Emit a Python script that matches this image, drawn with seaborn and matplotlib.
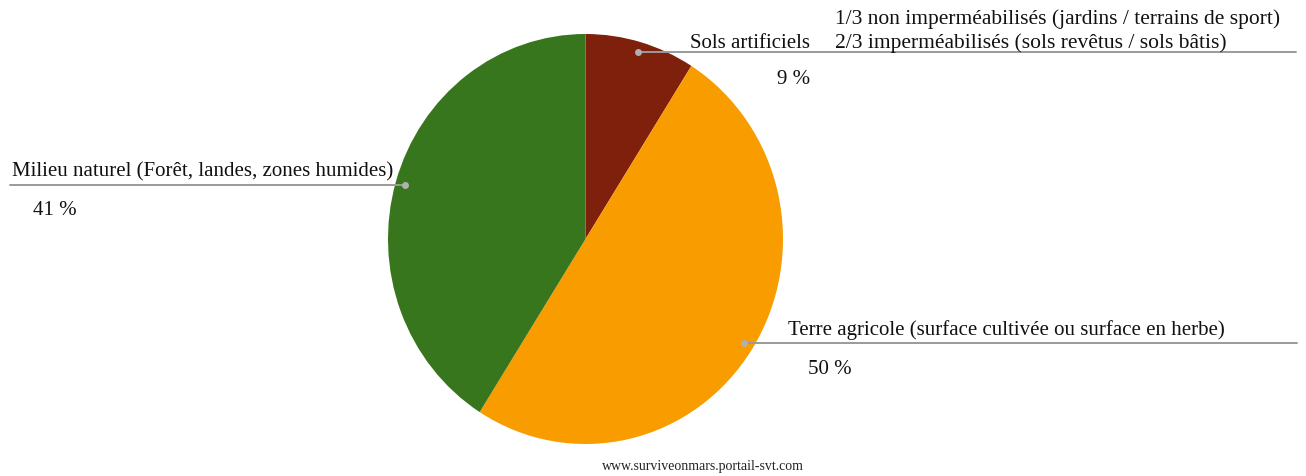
import numpy as np
import matplotlib
matplotlib.use('Agg')
import matplotlib.pyplot as plt
import seaborn as sns

# Occupation des sols
categories = ['Sols artificiels', 'Terre agricole (surface cultivée ou surface en herbe)',
              'Milieu naturel (Forêt, landes, zones humides)']
values = [9, 50, 41]
colors = ['#7e200c', '#f89c00', '#38761d']
note_lines = ['1/3 non imperméabilisés (jardins / terrains de sport)',
              '2/3 imperméabilisés (sols revêtus / sols bâtis)']

sns.set_theme(style='white')
plt.rcParams['font.family'] = ['Liberation Serif', 'DejaVu Serif']

W, H = 1306, 477
k = 1.038  # pie is slightly stretched vertically in the original
fig = plt.figure(figsize=(W / 100, H / 100), dpi=100)
ax = fig.add_axes([0, 0, 1, 1])


def py(y_px):
    # pixel row (from top) -> data y
    return (H - y_px) / k


cx, cy, r = 585.5, py(240), 197.5
wedges, _ = ax.pie(values, colors=colors, startangle=90, counterclock=False,
                   center=(cx, cy), radius=r, frame=True,
                   wedgeprops=dict(linewidth=0))
ax.set_aspect('auto')
ax.set_xlim(0, W)
ax.set_ylim(0, H / k)
ax.axis('off')

line_col = '#9a9a9a'
fs = 15
# (line end x, label x, label ha, label offset px, pct x, pct ha, pct offset px)
layout = [(1296, 810, 'right', 9, 810, 'right', 27),
          (1297, 788, 'left', 14, 808, 'left', 25),
          (10, 12, 'left', 14, 33, 'left', 25)]

for w, cat, val, (lx, tx, tha, off, px, pha, poff) in zip(wedges, categories, values, layout):
    ang = np.deg2rad((w.theta1 + w.theta2) / 2)
    dx = cx + 0.95 * r * np.cos(ang)
    dy = cy + 0.95 * r * np.sin(ang)
    ax.plot([dx, lx], [dy, dy], color=line_col, lw=1.4, zorder=3)
    ax.plot(dx, dy, 'o', color='#b0b0b0', ms=4, zorder=4)
    ax.text(tx, dy + off / k, cat, ha=tha, va='center', fontsize=fs, color='#111111')
    ax.text(px, dy - poff / k, f'{val} %', ha=pha, va='center', fontsize=fs, color='#111111')

ax.text(835, py(19), note_lines[0], ha='left', va='center', fontsize=15.5, color='#111111')
ax.text(835, py(43), note_lines[1], ha='left', va='center', fontsize=15.5, color='#111111')

ax.text(703, py(467), 'www.surviveonmars.portail-svt.com', ha='center', va='center',
        fontsize=10, color='#222222')

fig.savefig('out.png', dpi=100)
